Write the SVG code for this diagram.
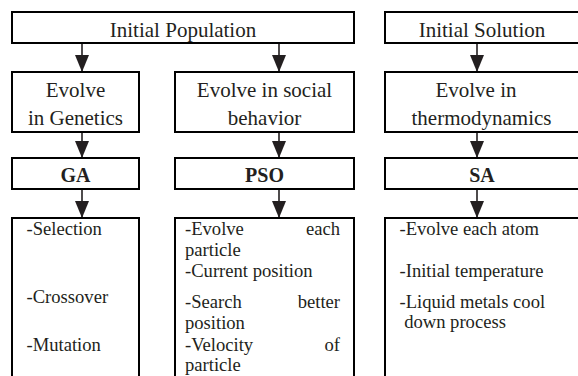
<svg xmlns="http://www.w3.org/2000/svg" width="578" height="376" viewBox="0 0 578 376">
<defs>
<style>
.box{fill:#fff;stroke:#000;stroke-width:2}
.t{font-family:"Liberation Serif","Times New Roman",serif;fill:#231f20}
.h{font-size:21px;text-anchor:middle}
.b{font-size:20px;font-weight:bold;text-anchor:middle}
.s{font-size:18.6px}
.e{text-anchor:end}
.c{stroke:#231f20;stroke-width:1.6;fill:none}
</style>
<marker id="ah" viewBox="0 0 17 14" markerWidth="17" markerHeight="14" refX="17" refY="7" orient="auto" markerUnits="userSpaceOnUse">
<path d="M0,0 L17,7 L0,14 Z" fill="#231f20"/>
</marker>
</defs>
<rect width="578" height="376" fill="#fff"/>
<g id="connectors">
<line class="c" x1="82" y1="43" x2="82" y2="72" marker-end="url(#ah)"/>
<line class="c" x1="279" y1="43" x2="279" y2="72" marker-end="url(#ah)"/>
<line class="c" x1="477" y1="43" x2="477" y2="72" marker-end="url(#ah)"/>
<line class="c" x1="82" y1="132" x2="82" y2="158" marker-end="url(#ah)"/>
<line class="c" x1="279" y1="132" x2="279" y2="158" marker-end="url(#ah)"/>
<line class="c" x1="477" y1="132" x2="477" y2="158" marker-end="url(#ah)"/>
<line class="c" x1="82" y1="189" x2="82" y2="218" marker-end="url(#ah)"/>
<line class="c" x1="279" y1="189" x2="279" y2="218" marker-end="url(#ah)"/>
<line class="c" x1="477" y1="189" x2="477" y2="218" marker-end="url(#ah)"/>
</g>
<g id="initial-population">
<rect class="box" x="12" y="12" width="342" height="31"/>
<text class="t h" x="183" y="37">Initial Population</text>
</g>
<g id="initial-solution">
<rect class="box" x="385" y="12" width="196" height="31"/>
<text class="t h" x="482" y="37">Initial Solution</text>
</g>
<g id="evolve-genetics">
<rect class="box" x="12" y="72" width="127" height="60"/>
<text class="t h" x="75.5" y="97">Evolve</text>
<text class="t h" x="75.5" y="125">in Genetics</text>
</g>
<g id="evolve-social">
<rect class="box" x="175" y="72" width="179" height="60"/>
<text class="t h" x="264.5" y="97">Evolve in social</text>
<text class="t h" x="264.5" y="125">behavior</text>
</g>
<g id="evolve-thermo">
<rect class="box" x="385" y="72" width="196" height="60"/>
<text class="t h" x="476" y="97">Evolve in</text>
<text class="t h" x="481.5" y="125">thermodynamics</text>
</g>
<g id="ga">
<rect class="box" x="12" y="158" width="127" height="31"/>
<text class="t b" x="75.5" y="182">GA</text>
</g>
<g id="pso">
<rect class="box" x="175" y="158" width="179" height="31"/>
<text class="t b" x="264.5" y="182">PSO</text>
</g>
<g id="sa">
<rect class="box" x="385" y="158" width="196" height="31"/>
<text class="t b" x="482" y="182">SA</text>
</g>
<g id="ga-ops">
<rect class="box" x="12" y="218" width="127" height="170"/>
<text class="t s" x="26.5" y="235">-Selection</text>
<text class="t s" x="26.5" y="302.5">-Crossover</text>
<text class="t s" x="26.5" y="351">-Mutation</text>
</g>
<g id="pso-ops">
<rect class="box" x="175" y="218" width="179" height="170"/>
<text class="t s" x="185" y="235">-Evolve</text>
<text class="t s e" x="340" y="235">each</text>
<text class="t s" x="185" y="256">particle</text>
<text class="t s" x="185" y="276.5">-Current position</text>
<text class="t s" x="185" y="307.5">-Search</text>
<text class="t s e" x="340" y="307.5">better</text>
<text class="t s" x="185" y="329">position</text>
<text class="t s" x="185" y="351">-Velocity</text>
<text class="t s e" x="340" y="351">of</text>
<text class="t s" x="185" y="371">particle</text>
</g>
<g id="sa-ops">
<rect class="box" x="385" y="218" width="196" height="170"/>
<text class="t s" x="399.5" y="235">-Evolve each atom</text>
<text class="t s" x="399.5" y="276.5">-Initial temperature</text>
<text class="t s" x="399.5" y="307.5">-Liquid metals cool</text>
<text class="t s" x="399.5" y="327.5" xml:space="preserve"> down process</text>
</g>
</svg>
